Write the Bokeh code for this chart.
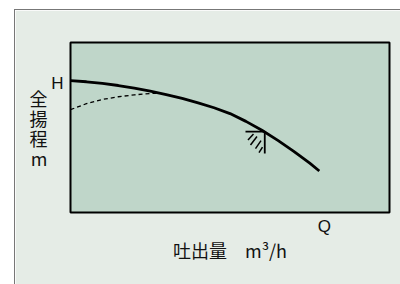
from bokeh.plotting import figure
from bokeh.models import Range1d, FixedTicker, LinearAxis
from bokeh.embed import file_html
from bokeh.resources import INLINE

# Pump performance curve (relative units: flow % of frame, head % of frame)
q_curve = [0, 5, 10, 15, 20, 25, 30, 35, 40, 45, 50, 55, 60, 65, 70, 75, 78]
h_curve = [77.6, 76.9, 75.9, 74.7, 73.2, 71.4, 69.4, 67.1, 64.5, 61.6, 58.2, 53.6, 48.4, 42.4, 36.0, 29.0, 24.4]

# Dashed (low-flow) curve branch
q_dash = [0, 5, 10, 15, 20, 25, 28]
h_dash = [60.5, 64.0, 66.5, 68.1, 69.2, 70.0, 70.2]

# Operating point (hatched symbol)
op_q = 60.5
op_h = 47.6

# Axis markers
h_tick = [75.8]
h_tick_label = ["H"]
q_tick = [79.6]
q_tick_label = ["Q"]
x_title = "吐出量　m³/h"
y_title_chars = ["全", "揚", "程", "m"]
y_title_pos = [67.6, 55.6, 44.1, 32.0]

BG = "#e5ece6"
PLOT_BG = "#bfd6c9"

p = figure(frame_width=319, frame_height=170, output_backend="svg", toolbar_location=None,
           x_range=Range1d(0, 100), y_range=Range1d(0, 100),
           min_border_left=55, min_border_right=11, min_border_top=32, min_border_bottom=72,
           margin=(9, 0, 0, 14),
           styles={"border-left": "1px solid #777777", "border-top": "1px solid #777777"},
           background_fill_color=PLOT_BG, border_fill_color=BG,
           outline_line_color="black", outline_line_width=2)
p.grid.visible = False

p.xaxis.ticker = FixedTicker(ticks=q_tick)
p.xaxis.major_label_overrides = {q_tick[0]: q_tick_label[0]}
p.yaxis.ticker = FixedTicker(ticks=h_tick)
p.yaxis.major_label_overrides = {h_tick[0]: h_tick_label[0]}

ytitle_axis = LinearAxis(ticker=FixedTicker(ticks=y_title_pos),
                         major_label_overrides={v: c for v, c in zip(y_title_pos, y_title_chars)})
p.add_layout(ytitle_axis, "left")

for ax in (p.xaxis[0], p.yaxis[0], ytitle_axis):
    ax.axis_line_color = None
    ax.major_tick_line_color = None
    ax.minor_tick_line_color = None
    ax.major_tick_in = 0
    ax.major_tick_out = 0
    ax.major_label_text_color = "#111111"
    ax.major_label_orientation = "horizontal"
for ax in (p.xaxis[0], p.yaxis[0]):
    ax.major_label_text_font = "Liberation Sans"
    ax.major_label_text_font_size = "17px"
ytitle_axis.major_label_text_font = "Noto Sans CJK JP"
ytitle_axis.major_label_text_font_size = "18px"
ytitle_axis.major_label_standoff = 1
p.xaxis.major_label_standoff = 4
p.yaxis[0].major_label_standoff = 7

p.xaxis.axis_label = x_title
p.xaxis.axis_label_text_font = "Noto Sans CJK JP"
p.xaxis.axis_label_text_font_size = "18px"
p.xaxis.axis_label_text_font_style = "normal"
p.xaxis.axis_label_text_color = "#111111"
p.xaxis.axis_label_standoff = -2

p.line(q_curve, h_curve, line_color="black", line_width=2.8, line_join="round")
p.line(q_dash, h_dash, line_color="black", line_width=1.3, line_dash="4 3")

# Hatched operating point symbol (scale: 3.19 px per q-unit, 1.7 px per h-unit)
sx, sy = 3.19, 1.7
p.segment(x0=[op_q - 18 / sx, op_q + 0.4], y0=[op_h, op_h],
          x1=[op_q + 0.4, op_q + 0.4], y1=[op_h, op_h - 22 / sy],
          line_color="black", line_width=1.8)
hx0 = [-15.5, -13, -8, -4.5]
hy0 = [-8.5, -13.5, -17, -21]
hx1 = [-10, -6.5, -2.5, -1]
hy1 = [-2.5, -5, -9, -15.5]
p.segment(x0=[op_q + a / sx for a in hx0], y0=[op_h + b / sy for b in hy0],
          x1=[op_q + a / sx for a in hx1], y1=[op_h + b / sy for b in hy1],
          line_color="black", line_width=1.5)

open("out.html", "w").write(file_html(p, INLINE))
